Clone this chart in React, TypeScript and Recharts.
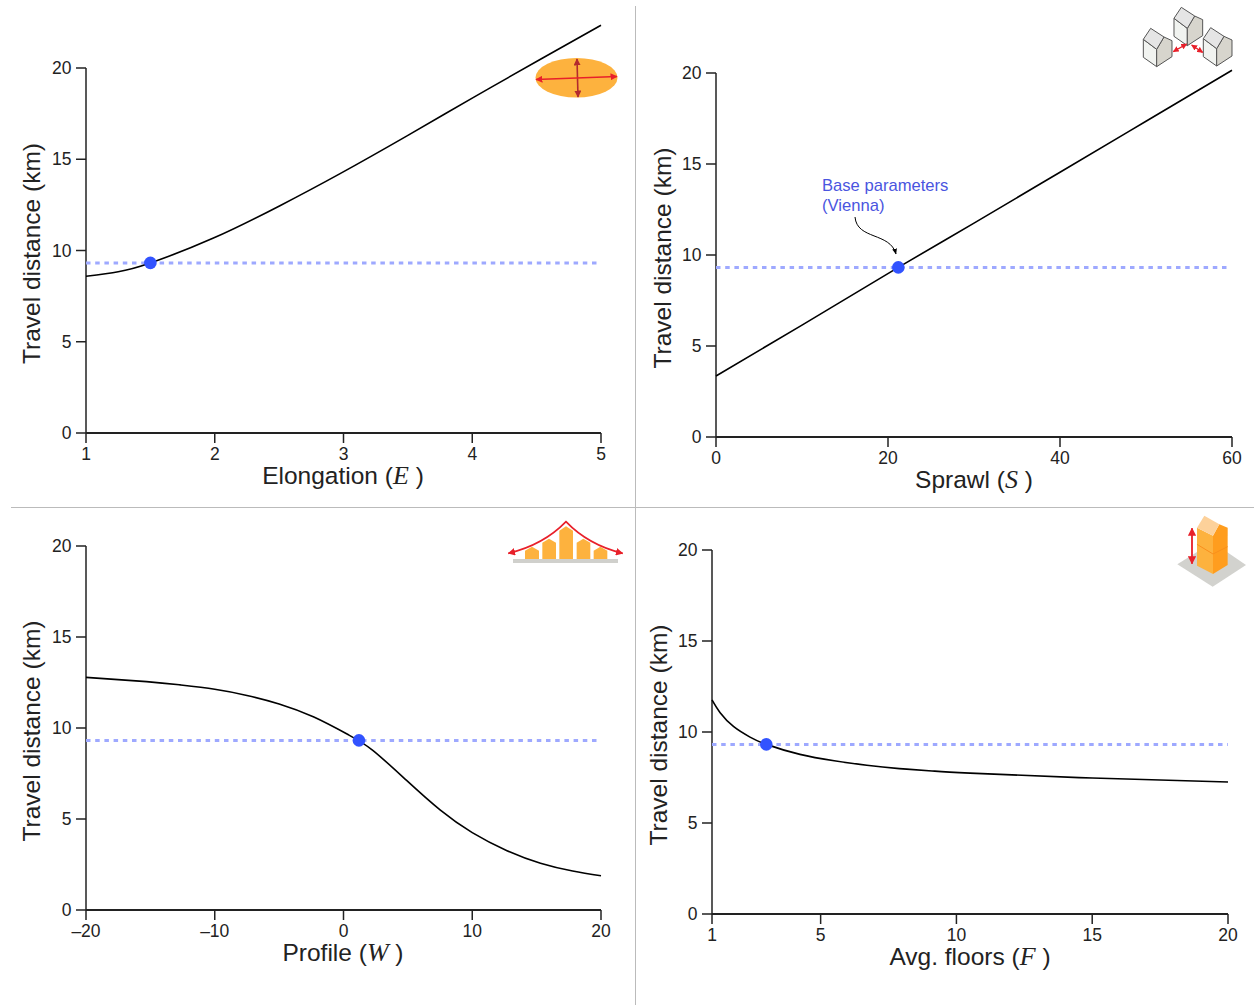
import React from "react";
import {
  LineChart,
  Line,
  XAxis,
  YAxis,
  Label,
  ReferenceLine,
  ReferenceDot,
} from "recharts";

const baseDistance = 9.32;
const yTicks = [0, 5, 10, 15, 20];

const elongationX = [1, 1.25, 1.5, 1.99, 2.51, 2.97, 3.49, 4.01, 4.53, 5];
const elongationY = [8.59, 8.84, 9.32, 10.68, 12.47, 14.2, 16.27, 18.39, 20.48, 22.34];
const elongationTicks = [1, 2, 3, 4, 5];

const sprawlX = [0, 10, 21.2, 30, 40, 50, 60];
const sprawlY = [3.35, 6.15, 9.32, 11.75, 14.55, 17.35, 20.15];
const sprawlTicks = [0, 20, 40, 60];

const profileX = [-20, -15.3, -12.7, -10, -7.5, -5, -2.3, 0.4, 2.3, 4.9, 7.5, 10, 12.7, 15.3, 17.8, 20];
const profileY = [12.78, 12.55, 12.37, 12.13, 11.79, 11.32, 10.6, 9.62, 8.76, 7.12, 5.5, 4.25, 3.26, 2.57, 2.14, 1.88];
const profileTicks = [-20, -10, 0, 10, 20];

const floorsX = [1, 1.3, 1.8, 2.4, 3, 4.24, 5.5, 6.7, 7.9, 9.1, 10.5, 15, 20];
const floorsY = [11.76, 11.06, 10.29, 9.72, 9.32, 8.77, 8.42, 8.17, 7.99, 7.86, 7.74, 7.47, 7.25];
const floorsTicks = [1, 5, 10, 15, 20];

const W = 1254;
const H = 1005;
const SANS = '"Liberation Sans", Arial, sans-serif';
const INK = "#222";
const RED = "#e8202a";
const ORANGE = "#fdb23e";

const zip = (xs: number[], ys: number[]) => xs.map((x, i) => ({ x, y: ys[i] }));

interface PanelProps {
  xs: number[];
  ys: number[];
  ticks: number[];
  base: number;
  dotEnd: number;
  left: number;
  right: number;
  y0: number;
  y20: number;
  name: string;
  symbol: string;
  titleX: number;
  xLabelY: number;
  xLabelX: number;
}

const Panel = (p: PanelProps) => {
  const xMin = p.ticks[0];
  const xMax = p.ticks[p.ticks.length - 1];
  const perUnit = (p.y0 - p.y20) / 20;
  const yTop = 22.5;
  const top = p.y0 - yTop * perUnit;
  const titleY = (p.y0 + p.y20) / 2 + 3;
  return (
    <div style={{ position: "absolute", left: 0, top: 0 }}>
      <LineChart
        width={W}
        height={H}
        data={zip(p.xs, p.ys)}
        margin={{
          top,
          left: p.left - 60,
          right: W - p.right,
          bottom: H - p.y0 - 60,
        }}
        style={{ fontFamily: SANS }}
      >
        <XAxis
          dataKey="x"
          type="number"
          domain={[xMin, xMax]}
          ticks={p.ticks}
          interval={0}
          height={60}
          tickSize={10}
          tickMargin={5}
          tick={{ fontSize: 17.5, fill: INK }}
          tickLine={{ stroke: INK, strokeWidth: 1.5 }}
          axisLine={{ stroke: INK, strokeWidth: 2 }}
          tickFormatter={(v: number) => (v < 0 ? `–${-v}` : `${v}`)}
        >
          <Label
            content={() => (
              <text
                x={p.xLabelX}
                y={p.xLabelY}
                textAnchor="middle"
                fontSize={24.5}
                fill={INK}
                fontFamily={SANS}
              >
                {p.name} (
                <tspan fontFamily='"Liberation Serif", serif' fontStyle="italic" fontSize={26}>
                  {p.symbol}
                </tspan>
                {" )"}
              </text>
            )}
          />
        </XAxis>
        <YAxis
          type="number"
          domain={[0, yTop]}
          ticks={yTicks}
          interval={0}
          width={60}
          tickSize={10}
          tickMargin={4.5}
          tick={{ fontSize: 17.5, fill: INK }}
          tickLine={{ stroke: INK, strokeWidth: 1.5 }}
          axisLine={false}
        >
          <Label
            content={() => (
              <text
                x={p.titleX}
                y={titleY}
                textAnchor="middle"
                dominantBaseline="central"
                fontSize={24.5}
                fill={INK}
                fontFamily={SANS}
                transform={`rotate(-90 ${p.titleX} ${titleY})`}
              >
                Travel distance (km)
              </text>
            )}
          />
        </YAxis>
        <ReferenceLine
          segment={[
            { x: xMin, y: 0 },
            { x: xMin, y: 20 },
          ]}
          stroke={INK}
          strokeWidth={1.5}
        />
        <ReferenceLine
          segment={[
            { x: xMin, y: baseDistance },
            { x: p.dotEnd, y: baseDistance },
          ]}
          stroke="#9ea9ff"
          strokeWidth={3}
          strokeDasharray="4.5 4.7"
        />
        <Line
          dataKey="y"
          type="natural"
          stroke="#000"
          strokeWidth={1.6}
          dot={false}
          isAnimationActive={false}
        />
        <ReferenceDot
          x={p.base}
          y={baseDistance}
          r={6.3}
          fill="#3253ff"
          stroke="none"
        />
      </LineChart>
    </div>
  );
};

const House = ({ dx, dy }: { dx: number; dy: number }) => (
  <g transform={`translate(${dx} ${dy})`} stroke="#555" strokeWidth={3} strokeLinejoin="round">
    <polygon points="70,118 110,148 110,200 70,172" fill="#f1f3f0" />
    <polygon points="110,148 132,111 156,122 156,170 110,200" fill="#d7d5cd" />
    <polygon points="70,118 92,85 132,111 110,148" fill="#e5e5e5" />
  </g>
);

const Overlay = () => (
  <svg
    width={W}
    height={H}
    style={{ position: "absolute", left: 0, top: 0, fontFamily: SANS }}
  >
    <defs>
      <marker id="redHead" viewBox="0 0 10 10" refX="9" refY="5" markerWidth="4.5" markerHeight="4.5" orient="auto-start-reverse" markerUnits="strokeWidth">
        <path d="M0 0L10 5L0 10Z" fill={RED} />
      </marker>
      <marker id="darkHead" viewBox="0 0 10 10" refX="9" refY="5" markerWidth="4.5" markerHeight="4.5" orient="auto-start-reverse" markerUnits="strokeWidth">
        <path d="M0 0L10 5L0 10Z" fill="#b22a2e" />
      </marker>
      <marker id="blackHead" viewBox="0 0 10 10" refX="9" refY="5" markerWidth="6" markerHeight="6" orient="auto" markerUnits="strokeWidth">
        <path d="M0 1L10 5L0 9Z" fill="#000" />
      </marker>
    </defs>

    {/* dividers */}
    <line x1={635.5} y1={6} x2={635.5} y2={1005} stroke="#bbb" strokeWidth={1} />
    <line x1={11} y1={507.5} x2={1254} y2={507.5} stroke="#bbb" strokeWidth={1} />

    {/* elongation icon */}
    <ellipse cx={576.5} cy={77.7} rx={41} ry={19.7} fill={ORANGE} />
    <line x1={577} y1={59} x2={578} y2={97} stroke="#b22a2e" strokeWidth={1.6} markerStart="url(#darkHead)" markerEnd="url(#darkHead)" />
    <line x1={536} y1={79.5} x2={617} y2={76.5} stroke={RED} strokeWidth={1.6} markerStart="url(#redHead)" markerEnd="url(#redHead)" />

    {/* sprawl icon */}
    <g transform="translate(1120 0) scale(0.3333)">
      <House dx={0} dy={0} />
      <House dx={92} dy={-63} />
      <House dx={180} dy={-2} />
      <line x1={160} y1={155} x2={200} y2={132} stroke={RED} strokeWidth={4} markerStart="url(#redHead)" markerEnd="url(#redHead)" />
      <line x1={215} y1={135} x2={248} y2={157} stroke={RED} strokeWidth={4} markerStart="url(#redHead)" markerEnd="url(#redHead)" />
    </g>

    {/* profile icon */}
    <g transform="translate(490 510) scale(0.3333)">
      <rect x={69} y={147} width={315} height={12} fill="#d0d0cc" />
      <g fill={ORANGE}>
        <polygon points="105,147 105,122 126,110 147,122 147,147" />
        <polygon points="157,147 157,98 177,86 198,98 198,147" />
        <polygon points="208,147 208,62 228,49 249,62 249,147" />
        <polygon points="260,147 260,98 280,86 301,98 301,147" />
        <polygon points="311,147 311,122 331,110 352,122 352,147" />
      </g>
      <path d="M55 130Q160 105 228 35Q295 105 398 130" fill="none" stroke={RED} strokeWidth={5} markerStart="url(#redHead)" markerEnd="url(#redHead)" />
    </g>

    {/* floors icon */}
    <g transform="translate(1160 505) scale(0.3333)">
      <polygon points="52,178 158,112 258,180 158,245" fill="#d2d2ce" />
      <polygon points="111,68 159,92 159,207 111,182" fill={ORANGE} />
      <polygon points="159,92 178,58 203,68 203,180 159,207" fill="#ff9d1e" />
      <polygon points="111,68 133,32 178,58 159,92" fill="#fdd19a" />
      <polyline points="111,118 159,147 203,125" fill="none" stroke="#f98f1c" strokeWidth={3} />
      <line x1={96} y1={70} x2={96} y2={176} stroke={RED} strokeWidth={5.5} markerStart="url(#redHead)" markerEnd="url(#redHead)" />
    </g>

    {/* annotation */}
    <text x={822} y={191} fontSize={16.6} fill="#4a55e0">Base parameters</text>
    <text x={822} y={211} fontSize={16.6} fill="#4a55e0">(Vienna)</text>
    <path d="M855 217C857 240 890 232 896 254" fill="none" stroke="#000" strokeWidth={1} markerEnd="url(#blackHead)" />
  </svg>
);

export default function App() {
  return (
    <div style={{ position: "absolute", left: 0, top: 0, width: W, height: H, background: "#fff", overflow: "hidden" }}>
      <Panel xs={elongationX} ys={elongationY} ticks={elongationTicks} base={1.5} dotEnd={5}
        left={86} right={601} y0={433} y20={68} name="Elongation" symbol="E"
        titleX={31} xLabelX={343} xLabelY={484} />
      <Panel xs={sprawlX} ys={sprawlY} ticks={sprawlTicks} base={21.2} dotEnd={59.9}
        left={716} right={1232} y0={437} y20={73} name="Sprawl" symbol="S"
        titleX={662} xLabelX={974} xLabelY={488} />
      <Panel xs={profileX} ys={profileY} ticks={profileTicks} base={1.2} dotEnd={20}
        left={86} right={601} y0={910} y20={546} name="Profile" symbol="W"
        titleX={31} xLabelX={343} xLabelY={961} />
      <Panel xs={floorsX} ys={floorsY} ticks={floorsTicks} base={3} dotEnd={20}
        left={712} right={1228} y0={914} y20={550} name="Avg. floors" symbol="F"
        titleX={658} xLabelX={970} xLabelY={965} />
      <Overlay />
    </div>
  );
}
